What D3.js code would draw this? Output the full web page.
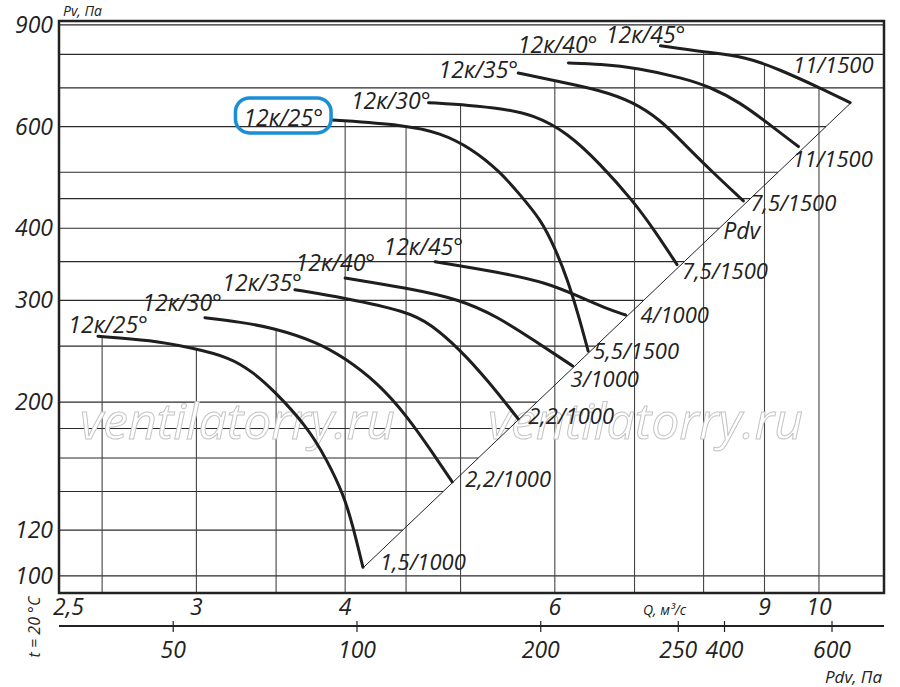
<!DOCTYPE html>
<html>
<head>
<meta charset="utf-8">
<script src="https://cdn.jsdelivr.net/npm/d3@7"></script>
<style>
body { margin: 0; background: #fff; }
svg text { font-family: "Open Sans", "Noto Sans", sans-serif; font-style: italic; fill: #222; }
</style>
</head>
<body>
<svg id="chart" width="900" height="687"></svg>
<script>
// ---- data: [Q m3/s, Pv Pa] ----
var qGrid       = [2.5, 3, 3.5, 4, 4.5, 5, 6, 7, 8, 9, 10];
var qTicks      = [2.5, 3, 4, 6, 9, 10];
var qTickLabels = ['2,5', '3', '4', '6', '9', '10'];
var pGrid       = [100, 120, 140, 160, 180, 200, 250, 300, 350, 400, 450, 500, 600, 700, 800, 900];
var pTicks      = [100, 120, 200, 300, 400, 600, 900];
var pdvTicks      = [50, 100, 200, 336, 400, 600];
var pdvTickLabels = ['50', '100', '200', '250', '400', '600'];

var bladeNames = ['12к/25°', '12к/30°', '12к/35°', '12к/40°', '12к/45°'];
var lowMotors  = ['1,5/1000', '2,2/1000', '2,2/1000', '3/1000', '4/1000'];
var highMotors = ['5,5/1500', '7,5/1500', '7,5/1500', '11/1500', '11/1500'];

// 1000 rpm
var low25 = [[2.48, 260], [2.75, 256], [2.98, 248], [3.20, 239], [3.35, 225], [3.48, 210],
             [3.72, 181], [3.86, 159], [3.99, 138], [4.06, 122], [4.14, 103.5]];
var low30 = [[3.05, 280], [3.27, 275], [3.48, 269], [3.79, 254], [3.99, 239], [4.26, 216],
             [4.51, 189], [4.74, 163], [4.92, 145.5]];
var low35 = [[3.63, 313], [3.99, 303], [4.51, 287], [4.72, 273], [5.00, 246], [5.27, 218], [5.59, 187]];
var low40 = [[4.00, 328], [4.51, 315], [5.00, 301], [5.37, 281], [5.76, 256], [6.21, 231]];
var low45 = [[4.76, 350], [5.37, 336], [5.91, 322], [6.30, 304], [6.61, 291], [6.88, 283]];

// 1500 rpm
var high25 = [[3.90, 616], [4.49, 604], [4.81, 585], [5.10, 551], [5.40, 501], [5.61, 457],
              [5.84, 414], [6.00, 370], [6.15, 326], [6.28, 283], [6.40, 245]];
var high30 = [[4.70, 660], [5.10, 653], [5.40, 645], [5.76, 629], [6.15, 585], [6.55, 517],
              [6.98, 446], [7.26, 399], [7.60, 346]];
var high35 = [[5.59, 743], [6.00, 720], [6.55, 694], [6.98, 662], [7.36, 616], [7.69, 562],
              [8.10, 505], [8.64, 446]];
var high40 = [[6.16, 773], [6.55, 770], [7.04, 758], [7.69, 728], [8.10, 703], [8.59, 660],
              [9.05, 609], [9.61, 554]];
var high45 = [[7.36, 828], [8.00, 808], [8.70, 792], [9.28, 752], [10.02, 700], [10.62, 660]];

// Pdv line (ends of the curves)
var pdvLine = [[4.14, 103.2], [10.64, 660]];

// ---- layout ----
var x0 = 59, x1 = 884, y0 = 21, y1 = 593,
    pdvAxisY = 626,
    svg = d3.select('#chart');

var x    = d3.scaleLog().domain([2.30, 11.34]).range([x0, x1]),
    y    = d3.scaleLog().domain([93.4, 914]).range([y1, y0]),
    xPdv = d3.scaleLog().domain([32.5, 730]).range([x0, x1]);

var lowCurves  = [low25, low30, low35, low40, low45],
    highCurves = [high25, high30, high35, high40, high45],
    allCurves  = lowCurves.concat(highCurves);

// label offsets in px: name = [dx of text end, dy of baseline] from first point,
// motor = [dx, dy] of text start from last point
var lowNameOff   = [[50, -3], [17, -7], [7, 1], [30, -7], [28, -7]],
    highNameOff  = [[-9, 6], [2, 6], [0, 5], [29, -10], [25, -3]],
    lowMotorOff  = [[17, 3], [13, 5], [10, 5], [-2, 21], [15, 8]],
    highMotorOff = [[5, 8], [5, 14], [7, 10], [-6, 20], [-57, -30]];

// top of a vertical gridline = highest curve at that Q
function topAt(px) {
    var best = null;
    allCurves.forEach(function(c) {
        var pts = c.map(function(d) { return [x(d[0]), y(d[1])]; });
        for (var i = 0; i < pts.length - 1; i++) {
            if (px >= pts[i][0] && px <= pts[i + 1][0]) {
                var t = (px - pts[i][0]) / (pts[i + 1][0] - pts[i][0]);
                var py = pts[i][1] + t * (pts[i + 1][1] - pts[i][1]);
                if (best === null || py < best) best = py;
            }
        }
    });
    return best === null ? y0 : best;
}

// right end of a horizontal gridline = Pdv line, where it exists
var dA = [x(pdvLine[0][0]), y(pdvLine[0][1])],
    dB = [x(pdvLine[1][0]), y(pdvLine[1][1])];
function rightAt(py) {
    if (py > dA[1] || py < dB[1]) return x1;
    var t = (py - dA[1]) / (dB[1] - dA[1]);
    return dA[0] + t * (dB[0] - dA[0]);
}

// grid
svg.append('g').selectAll('line')
    .data(pGrid).enter().append('line')
    .attr('x1', x0).attr('x2', function(d) { return rightAt(y(d)); })
    .attr('y1', function(d) { return y(d); }).attr('y2', function(d) { return y(d); })
    .style('stroke', '#2a2a2a').style('stroke-width', 1.2);

svg.append('g').selectAll('line')
    .data(qGrid).enter().append('line')
    .attr('x1', function(d) { return x(d); }).attr('x2', function(d) { return x(d); })
    .attr('y1', function(d) { return topAt(x(d)); }).attr('y2', y1)
    .style('stroke', '#444').style('stroke-width', 1.1);

// watermark
svg.append('g').selectAll('text')
    .data([80, 488]).enter().append('text')
    .attr('x', function(d) { return d; }).attr('y', 439)
    .style('font-size', '50px')
    .style('fill', '#fff').style('stroke', '#c4c4c4').style('stroke-width', 1)
    .text('ventilatorry.ru');

// Pdv line
svg.append('line')
    .attr('x1', dA[0]).attr('y1', dA[1]).attr('x2', dB[0]).attr('y2', dB[1])
    .style('stroke', '#222').style('stroke-width', 1);
svg.append('text')
    .attr('x', x(8.31)).attr('y', y(8.31 * 8.31 * 6.02) + 20)
    .style('font-size', '23px').text('Pdv');

// curves
var line = d3.line()
    .x(function(d) { return x(d[0]); })
    .y(function(d) { return y(d[1]); })
    .curve(d3.curveBasis);

svg.append('g').selectAll('path')
    .data(allCurves).enter().append('path')
    .attr('d', line)
    .style('fill', 'none').style('stroke', '#1e1e1e').style('stroke-width', 3)
    .style('stroke-linecap', 'round');

function curveLabels(curves, nameOff, motors, motorOff) {
    var g = svg.append('g');
    curves.forEach(function(c, i) {
        var s = c[0], e = c[c.length - 1];
        g.append('text')
            .attr('class', 'bname')
            .attr('x', x(s[0]) + nameOff[i][0]).attr('y', y(s[1]) + nameOff[i][1])
            .attr('text-anchor', 'end')
            .style('font-size', '23px')
            .text(bladeNames[i]);
        g.append('text')
            .attr('x', x(e[0]) + motorOff[i][0]).attr('y', y(e[1]) + motorOff[i][1])
            .style('font-size', '22px')
            .text(motors[i]);
    });
    return g;
}
curveLabels(lowCurves, lowNameOff, lowMotors, lowMotorOff);
var hg = curveLabels(highCurves, highNameOff, highMotors, highMotorOff);

// highlight box round the first 1500 rpm name
var bb = hg.select('text.bname').node().getBBox();
svg.append('rect')
    .attr('x', bb.x - 8).attr('y', bb.y - 3)
    .attr('width', bb.width + 16).attr('height', bb.height + 3)
    .attr('rx', 14).attr('ry', 14)
    .style('fill', 'none').style('stroke', '#1a8ed6').style('stroke-width', 3.5);

// frame
svg.append('rect')
    .attr('x', x0).attr('y', y0).attr('width', x1 - x0).attr('height', y1 - y0)
    .style('fill', 'none').style('stroke', '#222').style('stroke-width', 2.5);

// Pv ticks
svg.append('g').selectAll('text')
    .data(pTicks).enter().append('text')
    .attr('x', 53).attr('y', function(d) { return y(d); })
    .attr('dy', '0.35em').attr('text-anchor', 'end')
    .style('font-size', '23px')
    .text(function(d) { return d; });

// Q ticks
svg.append('g').selectAll('text')
    .data(qTicks).enter().append('text')
    .attr('x', function(d, i) { return i === 0 ? x0 - 6 : x(d); })
    .attr('y', 615)
    .attr('text-anchor', function(d, i) { return i === 0 ? 'start' : 'middle'; })
    .style('font-size', '23px')
    .text(function(d, i) { return qTickLabels[i]; });

// Pdv axis
svg.append('line')
    .attr('x1', x0).attr('x2', x1).attr('y1', pdvAxisY).attr('y2', pdvAxisY)
    .style('stroke', '#222').style('stroke-width', 2);
var pdvG = svg.append('g').selectAll('g')
    .data(pdvTicks).enter().append('g')
    .attr('transform', function(d) { return 'translate(' + xPdv(d) + ',0)'; });
pdvG.append('line')
    .attr('y1', pdvAxisY - 5).attr('y2', pdvAxisY + 6)
    .style('stroke', '#222').style('stroke-width', 1.2);
pdvG.append('text')
    .attr('y', 658).attr('text-anchor', 'middle')
    .style('font-size', '23px')
    .text(function(d, i) { return pdvTickLabels[i]; });

// titles
svg.append('text').attr('x', 63).attr('y', 16).style('font-size', '14px').text('Pv, Па');
svg.append('text').attr('x', 643).attr('y', 615).style('font-size', '14px').text('Q, м³/с');
svg.append('text').attr('x', 882).attr('y', 683).attr('text-anchor', 'end')
    .style('font-size', '17px').text('Pdv, Па');
svg.append('text')
    .attr('transform', 'translate(40,627) rotate(-90)')
    .attr('text-anchor', 'middle')
    .style('font-size', '16px').text('t = 20 °C');
</script>
</body>
</html>
